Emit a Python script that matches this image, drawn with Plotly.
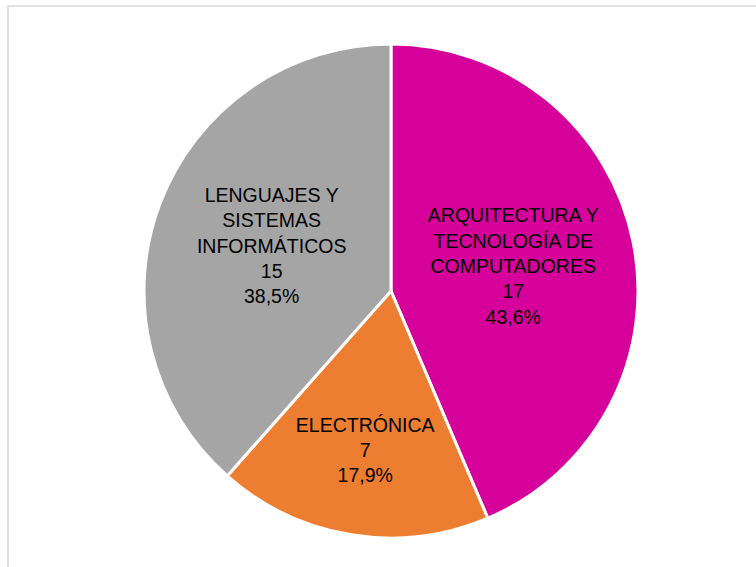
import plotly.graph_objects as go

# Data
departamentos = [
    "ARQUITECTURA Y<br>TECNOLOGÍA DE<br>COMPUTADORES",
    "ELECTRÓNICA",
    "LENGUAJES Y<br>SISTEMAS<br>INFORMÁTICOS",
]
profesores = [17, 7, 15]
colores = ["#D6009A", "#ED7D31", "#A5A5A5"]

W, H = 756, 567
cx, cy, r = 391, 291, 247

fig = go.Figure(go.Pie(
    labels=departamentos,
    values=profesores,
    sort=False,
    direction="clockwise",
    rotation=0,
    marker=dict(colors=colores, line=dict(color="white", width=3)),
    texttemplate="%{label}<br>%{value}<br>%{percent:.1%}",
    textposition="inside",
    insidetextorientation="horizontal",
    textfont=dict(family="Liberation Sans", size=19.5, color="black"),
    hoverinfo="label+value+percent",
    domain=dict(x=[(cx - r) / W, (cx + r) / W], y=[1 - (cy + r) / H, 1 - (cy - r) / H]),
))

fig.update_layout(
    width=W, height=H,
    margin=dict(l=0, r=0, t=0, b=0),
    paper_bgcolor="white",
    showlegend=False,
    separators=", ",
    uniformtext=dict(minsize=19, mode="show"),
    shapes=[dict(type="rect", xref="paper", yref="paper",
                 x0=8 / W, y0=-0.05, x1=1.05, y1=1 - 6 / H,
                 line=dict(color="#D9D9D9", width=1.5), fillcolor="rgba(0,0,0,0)")],
)

# the page has an 8px body margin by default; drop it so the figure sits at 0,0
fig.write_html("out.html", config={"displayModeBar": False},
               post_script="document.body.style.margin='0';")
